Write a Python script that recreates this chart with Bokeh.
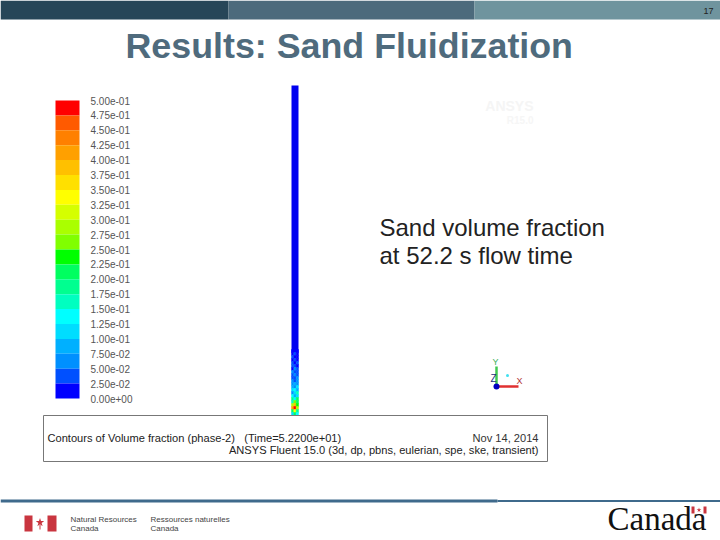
from bokeh.plotting import figure
from bokeh.embed import file_html
from bokeh.resources import INLINE
from bokeh.core.properties import value

# Slide text
title = "Results: Sand Fluidization"
page_number = "17"
caption = ["Sand volume fraction", "at 52.2 s flow time"]
box_left = "Contours of Volume fraction (phase-2)\u00a0\u00a0\u00a0(Time=5.2200e+01)"
box_date = "Nov 14, 2014"
box_solver = "ANSYS Fluent 15.0 (3d, dp, pbns, eulerian, spe, ske, transient)"

# Colour scale, top to bottom
scale_labels = ["5.00e-01", "4.75e-01", "4.50e-01", "4.25e-01", "4.00e-01", "3.75e-01", "3.50e-01",
                "3.25e-01", "3.00e-01", "2.75e-01", "2.50e-01", "2.25e-01", "2.00e-01", "1.75e-01",
                "1.50e-01", "1.25e-01", "1.00e-01", "7.50e-02", "5.00e-02", "2.50e-02", "0.00e+00"]
scale_colors = ["#ff0000", "#ff5a00", "#ff8000", "#ffa000", "#ffc000", "#ffe000", "#ffff00",
                "#d5ff00", "#aaff00", "#80ff00", "#00ff00", "#00ff60", "#00ff90", "#00ffc0",
                "#00ffff", "#00ddff", "#00b0ff", "#0090ff", "#0050ff", "#0000ff"]

# Sand volume fraction in the lower column, rows top to bottom, three cells a row
column_rows = [
    [0.00, 0.02, 0.00], [0.01, 0.03, 0.00], [0.03, 0.00, 0.02], [0.00, 0.03, 0.02],
    [0.03, 0.02, 0.03], [0.04, 0.03, 0.02], [0.02, 0.05, 0.03], [0.05, 0.03, 0.03],
    [0.03, 0.06, 0.04], [0.03, 0.04, 0.06], [0.06, 0.03, 0.05], [0.05, 0.08, 0.05],
    [0.08, 0.05, 0.11], [0.10, 0.14, 0.08], [0.06, 0.12, 0.16], [0.14, 0.09, 0.12],
    [0.18, 0.14, 0.22], [0.16, 0.26, 0.20], [0.30, 0.38, 0.24], [0.42, 0.48, 0.30],
    [0.22, 0.34, 0.18], [0.12, 0.20, 0.14],
]


def band_color(v):
    i = min(int(v / 0.025), len(scale_colors) - 1)
    return scale_colors[len(scale_colors) - 1 - i]


p = figure(width=720, height=540, x_range=(0, 720), y_range=(540, 0), output_backend="svg",
           toolbar_location=None, min_border=0, outline_line_color=None, margin=0)
p.xaxis.visible = False
p.yaxis.visible = False
p.xgrid.visible = False
p.ygrid.visible = False

SANS = value("Liberation Sans")


def label(x, y, s, size, color="#333333", align="left", style="normal", font=SANS):
    p.text([x], [y], text=[s], text_font=font, text_font_size=size, text_color=color,
           text_align=align, text_baseline="middle", text_font_style=style)


# Header bars
p.quad(left=[0, 228, 474], right=[228, 474, 720], top=[0, 0, 0], bottom=[19, 19, 19],
       fill_color=["#274658", "#4c6a7c", "#6f949e"], line_color=None)
label(713, 10, page_number, "9px", "#222222", "right")
label(125, 45, title, "35.8px", "#4f6b7d", style="bold")

# Colour scale
top, step = 100.0, 14.9
n = len(scale_colors)
p.quad(left=[55] * n, right=[79] * n,
       top=[top + i * step for i in range(n)], bottom=[top + (i + 1) * step for i in range(n)],
       fill_color=scale_colors, line_color=None)
for i, s in enumerate(scale_labels):
    label(90, top + i * step, s, "10px", "#555555")

# Column
p.quad(left=[291], right=[298], top=[85], bottom=[352], fill_color="#0000f0", line_color=None)
rl, rt, rr, rb, rc = [], [], [], [], []
for r, row in enumerate(column_rows):
    for c, v in enumerate(row):
        rl.append(291 + c * 7 / 3)
        rr.append(291 + (c + 1) * 7 / 3)
        rt.append(349 + r * 3)
        rb.append(349 + (r + 1) * 3)
        rc.append(band_color(v))
p.quad(left=rl, right=rr, top=rt, bottom=rb, fill_color=rc, line_color=rc, line_width=0.5)

# Faint watermark
label(533, 105, "ANSYS", "14px", "#f5f5f5", "right", "bold")
label(533, 120, "R15.0", "10px", "#f6f6f6", "right", "bold")

# Caption
label(379, 227, caption[0], "24px", "#222222")
label(379, 255, caption[1], "24px", "#222222")

# Axis triad
p.segment([496], [386], [496], [366], line_color="#40c850", line_width=2.5)
p.segment([496], [386], [518], [386], line_color="#e03030", line_width=2.5)
p.scatter([496], [386], size=6, fill_color="#0000c0", line_color=None)
p.scatter([507], [375], size=3, fill_color="#40e0f0", line_color=None)
label(492, 361, "Y", "9px", "#40b060")
label(516, 380, "X", "9px", "#b03030")
label(490, 378, "Z", "10px", "#203080")

# Info box
p.quad(left=[43], right=[547], top=[415], bottom=[461], fill_color="#ffffff", line_color="#777777", line_width=1)
label(47, 437, box_left, "11.1px", "#222222")
label(538, 437, box_date, "11.1px", "#333333", "right")
label(538, 449, box_solver, "11.1px", "#222222", "right")

# Footer rule
p.quad(left=[0, 497], right=[497, 720], top=[499, 499.5], bottom=[502, 501.5],
       fill_color=["#3f6a8c", "#3f6a8c"], line_color=None)

# Canada signature, left
p.quad(left=[24, 47], right=[32, 56], top=[515, 515], bottom=[531, 531], fill_color="#c9353f", line_color=None)
p.scatter([39.5], [522], size=9, marker="star", fill_color="#c9353f", line_color=None)
p.segment([39.5], [524], [39.5], [529], line_color="#c9353f", line_width=1)
label(70, 519, "Natural Resources", "8px", "#444444")
label(70, 528, "Canada", "8px", "#444444")
label(150, 519, "Ressources naturelles", "8px", "#444444")
label(150, 528, "Canada", "8px", "#444444")

# Canada wordmark, right
label(607, 518, "Canada", "33px", "#111111", font=value("Liberation Serif"))
p.quad(left=[691, 703], right=[694, 706], top=[506, 506], bottom=[513, 513], fill_color="#c9353f", line_color=None)
p.scatter([698.5], [509.5], size=5, marker="star", fill_color="#c9353f", line_color=None)

open("out.html", "w").write(file_html(p, INLINE))
